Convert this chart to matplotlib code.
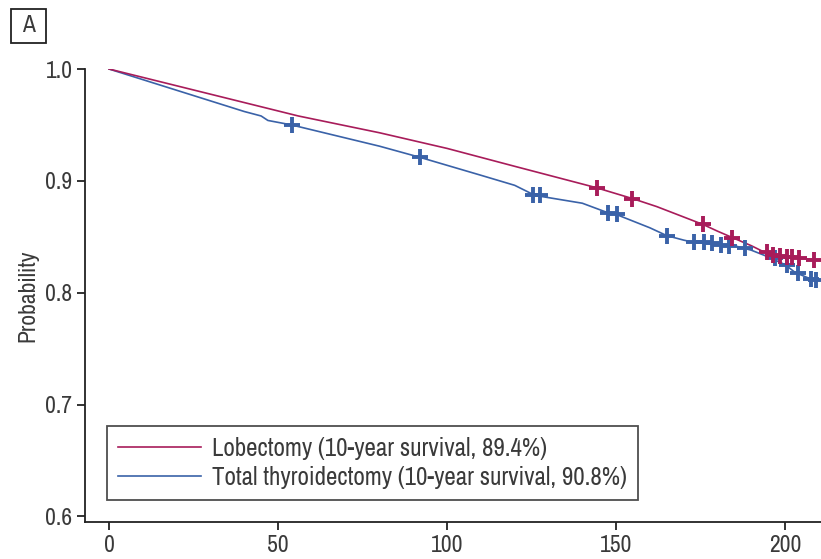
import matplotlib
matplotlib.use("Agg")
import matplotlib.pyplot as plt
from matplotlib.patches import Rectangle
from matplotlib.lines import Line2D

plt.rcParams['font.family'] = ['Archivo Narrow', 'Liberation Sans Narrow', 'DejaVu Sans']

# Lobectomy curve (months, survival probability)
lob_x = [0, 20, 40, 56, 80, 100, 120, 144, 155, 162, 168, 175.7, 180, 184.6, 190, 194, 200, 210]
lob_y = [1.0, 0.985, 0.970, 0.958, 0.943, 0.929, 0.913, 0.894, 0.884, 0.877, 0.870, 0.861, 0.855, 0.849, 0.842, 0.836, 0.832, 0.829]
lob_cx = [144.4, 154.7, 175.7, 184.3, 194.5, 196.5, 198.5, 200.5, 202, 204, 208.5]
lob_cy = [0.894, 0.884, 0.861, 0.849, 0.836, 0.834, 0.833, 0.832, 0.832, 0.831, 0.829]

# Total thyroidectomy curve
tt_x = [0, 20, 40, 45, 47, 54, 80, 92, 110, 120, 126, 140, 148, 150, 160, 165, 170, 173, 185, 190, 195, 200, 203, 207, 210]
tt_y = [1.0, 0.981, 0.962, 0.958, 0.954, 0.950, 0.931, 0.921, 0.905, 0.896, 0.887, 0.880, 0.871, 0.870, 0.858, 0.851, 0.847, 0.845, 0.842, 0.838, 0.832, 0.825, 0.818, 0.813, 0.811]
tt_cx = [54, 92, 125.5, 127.5, 147.6, 150.2, 165, 173, 176, 178.5, 181, 183.5, 188, 197, 200.6, 203.8, 207.5, 209]
tt_cy = [0.950, 0.921, 0.887, 0.887, 0.871, 0.870, 0.851, 0.845, 0.845, 0.844, 0.843, 0.842, 0.840, 0.831, 0.825, 0.818, 0.812, 0.811]

labels = ["Lobectomy (10-year survival, 89.4%)",
          "Total thyroidectomy (10-year survival, 90.8%)"]
x_ticks = [0, 50, 100, 150, 200]
y_ticks = [0.6, 0.7, 0.8, 0.9, 1.0]

red = '#a81c5a'
blue = '#3a62a8'
txt = '#3a3a3a'

fig = plt.figure(figsize=(8.21, 5.59), dpi=100)
ax = fig.add_axes([85/821, 37/559, 736/821, 453/559])

ax.plot(lob_x, lob_y, color=red, lw=1.2, zorder=3)
ax.plot(tt_x, tt_y, color=blue, lw=1.2, zorder=2)
ax.plot(lob_cx, lob_cy, ls='none', marker='+', ms=11, mew=2.8, color=red, zorder=4)
ax.plot(tt_cx, tt_cy, ls='none', marker='+', ms=11, mew=2.8, color=blue, zorder=3)

ax.set_xlim(-7.1, 210.6)
ax.set_ylim(0.595, 1.0)
ax.set_xticks(x_ticks)
ax.set_xticklabels([str(v) for v in x_ticks])
ax.set_yticks(y_ticks)
ax.set_yticklabels([f"{v:.1f}" for v in y_ticks])
for s in ['top', 'right']:
    ax.spines[s].set_visible(False)
for s in ['left', 'bottom']:
    ax.spines[s].set_color('#222222')
    ax.spines[s].set_linewidth(1.3)
ax.tick_params(axis='both', colors='#222222', labelcolor=txt, labelsize=17, width=1.3, length=6, pad=3)
ax.set_ylabel("Probability", fontsize=17, color=txt, labelpad=5)

handles = [Line2D([], [], color=red, lw=1.2), Line2D([], [], color=blue, lw=1.2)]
leg = ax.legend(handles, labels, loc='lower left', bbox_to_anchor=(0.03, 0.049),
                borderaxespad=0, fontsize=18, frameon=True, fancybox=False, edgecolor='#222222',
                handlelength=3.3, handletextpad=0.45, borderpad=0.45, labelspacing=0.22,
                labelcolor=txt)
leg.get_frame().set_linewidth(1.3)

# panel label
fig.patches.append(Rectangle((11/821, 1 - 43/559), 35/821, 34/559, transform=fig.transFigure,
                             fill=False, edgecolor='#222222', lw=1.3))
fig.text(28.5/821, 1 - 26/559, "A", ha='center', va='center', fontsize=17, color=txt)

fig.savefig("out.png", dpi=100)
